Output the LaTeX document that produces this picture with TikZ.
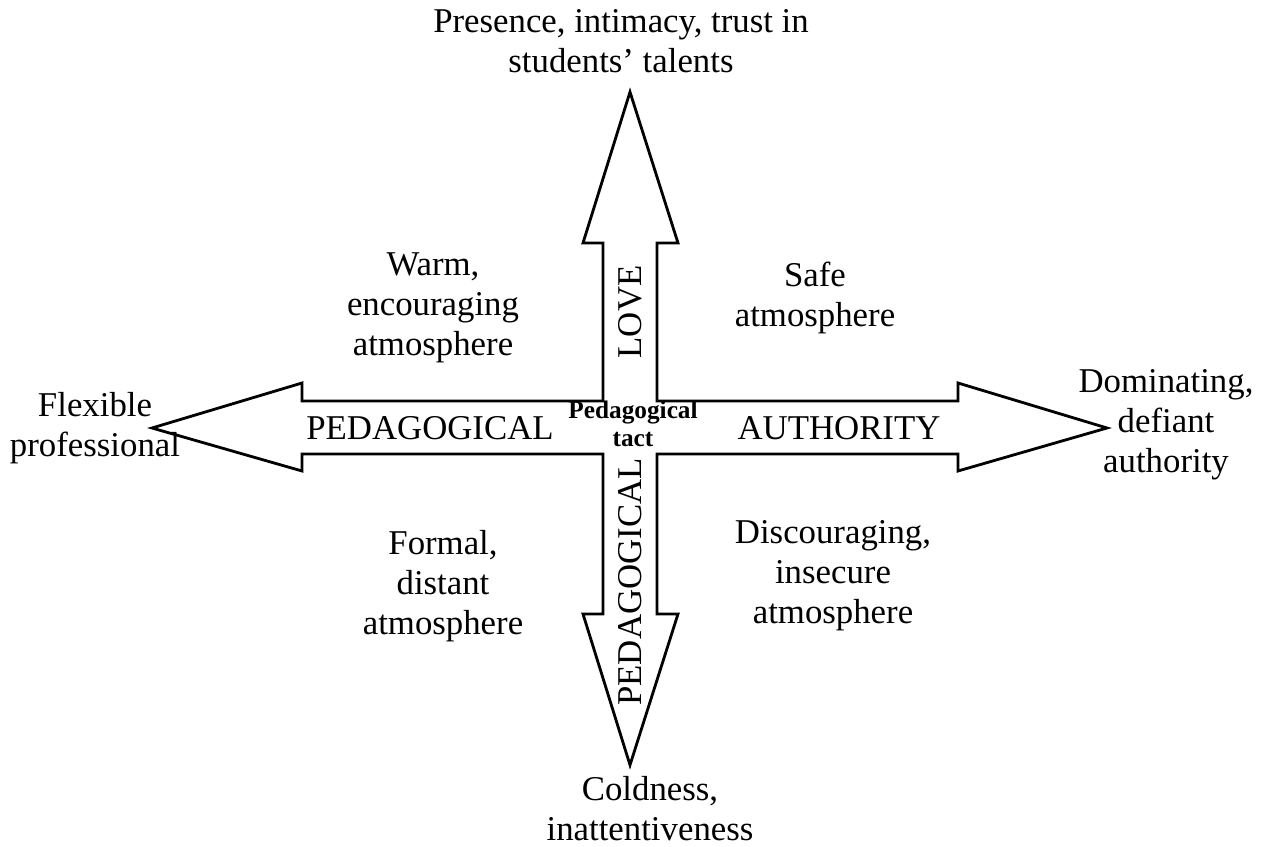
\documentclass[tikz,border=0pt]{standalone}
\usepackage{fontspec}
\setmainfont{Liberation Serif}
\usepackage{tikz}

\tikzset{
	lbl/.style = {align=center, inner sep=0pt, font=\fontsize{19.8}{22.7}\selectfont},
	axis/.style = {inner sep=0pt, font=\fontsize{19.8}{22.7}\selectfont},
	outline/.style = {line width=1.6pt, black, line join=miter}
}

\begin{document}
\begin{tikzpicture}[x=0.02cm, y=-0.02cm]
			\useasboundingbox (0,0) rectangle (1268,847);
	
			% cross of four arrows
			\draw [outline] (630,92) -- (678,243) -- (657,243) -- (657,401) -- (958,401) -- (958,383)
				-- (1107,428) -- (958,471) -- (958,454) -- (657,454) -- (657,614) -- (678,614)
				-- (630,765) -- (583,614) -- (603,614) -- (603,454) -- (302,454) -- (302,471)
				-- (152,428) -- (302,383) -- (302,401) -- (603,401) -- (603,243) -- (583,243) -- cycle;
	
			% labels in the arrows
			\node [axis, rotate=90] (love) at (630,312) {LOVE};
			\node [axis] (pedleft) at (430,428) {PEDAGOGICAL};
			\node [axis] (auth) at (839,428) {AUTHORITY};
			\node [axis, rotate=90] (peddown) at (630,582) {PEDAGOGICAL};
			\node [align=center, inner sep=0pt, font=\fontsize{14.4}{16}\selectfont\bfseries] (tact) at (633,424) {Pedagogical\\tact};
	
			% ends
			\node [lbl] (top) at (621,41) {Presence, intimacy, trust in\\students’ talents};
			\node [lbl] (bottom) at (650,809) {Coldness,\\inattentiveness};
			\node [lbl] (left) at (95,428) {Flexible\\professional};
			\node [lbl] (right) at (1166,425) {Dominating,\\defiant\\authority};
	
			% quadrants
			\node [lbl] (warm) at (433,308) {Warm,\\encouraging\\atmosphere};
			\node [lbl] (safe) at (815,298) {Safe\\atmosphere};
			\node [lbl] (formal) at (443,586) {Formal,\\distant\\atmosphere};
			\node [lbl] (discour) at (833,576) {Discouraging,\\insecure\\atmosphere};
\end{tikzpicture}
\end{document}
